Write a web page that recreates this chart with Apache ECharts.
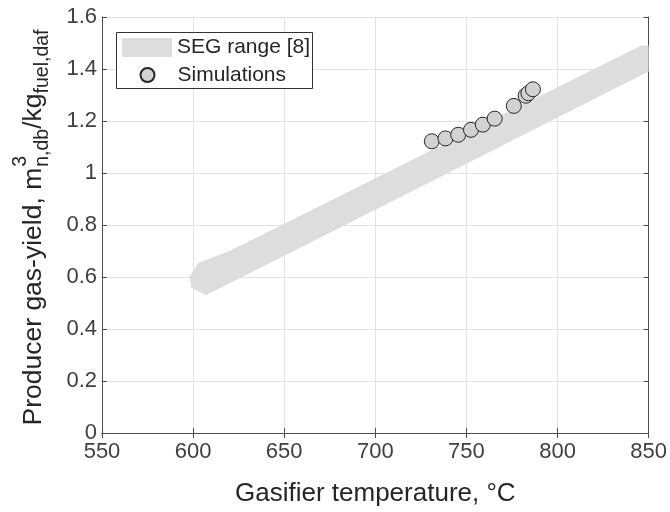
<!DOCTYPE html>
<html><head><meta charset="utf-8">
<script src="https://cdn.jsdelivr.net/npm/echarts@6/dist/echarts.min.js"></script>
<style>html,body{margin:0;padding:0;background:#fff}#c{width:670px;height:512px}</style>
</head><body><div id="c"></div>
<script>
// Simulation points
const simTemp = [731, 738.5, 745.5, 752.5, 759, 765.5, 776, 782.5, 784, 786.5];
const simYield = [1.122, 1.133, 1.147, 1.166, 1.186, 1.209, 1.258, 1.297, 1.307, 1.322];
// SEG range band (upper and lower edges)
const bandUpperX = [598, 603, 620, 650, 700, 750, 800, 846, 850];
const bandUpperY = [0.60, 0.655, 0.70, 0.805, 0.98, 1.155, 1.33, 1.49, 1.49];
const bandLowerX = [599, 607, 650, 700, 750, 800, 850];
const bandLowerY = [0.56, 0.53, 0.682, 0.859, 1.036, 1.213, 1.39];
const xTicks = [550, 600, 650, 700, 750, 800, 850];
const yTicks = [0, 0.2, 0.4, 0.6, 0.8, 1, 1.2, 1.4, 1.6];

const FONT = '"Liberation Sans", Arial, Helvetica, sans-serif';
const TXT = '#262626';
const AX = '#4d4d4d';

const ctx = document.createElement('canvas').getContext('2d');
function tw(s, size) { ctx.font = size + 'px "Liberation Sans"'; return ctx.measureText(s).width; }

// y-axis title pieces
const mainSize = 26.5, smallSize = 19.5;
const p1 = 'Producer gas-yield, m', p2 = '/kg';
const w1 = tw(p1, mainSize), wSup = tw('3', smallSize), wSub1 = tw('n,db', smallSize);
const w2 = tw(p2, mainSize), wSub2 = tw('fuel,daf', smallSize);
const stackW = Math.max(wSup, wSub1);
const totalW = w1 + stackW + w2 + wSub2;
const x0 = -totalW / 2;
function T(text, x, y, size) {
  return { type: 'text', x: x, y: y, style: { text: text, font: size + 'px ' + FONT, fill: TXT, textVerticalAlign: 'middle', textAlign: 'left' } };
}
const yTitle = {
  type: 'group', x: 34, y: 228, rotation: Math.PI / 2,
  children: [
    T(p1, x0, 0, mainSize),
    T('3', x0 + w1 + 1, -13, smallSize),
    T('n,db', x0 + w1 + 1, 9, smallSize),
    T(p2, x0 + w1 + stackW + 1, 0, mainSize),
    T('fuel,daf', x0 + w1 + stackW + w2 + 1, 9, smallSize)
  ]
};

const chart = echarts.init(document.getElementById('c'));
const axisCommon = {
  axisLine: { show: true, lineStyle: { color: AX, width: 1 } },
  axisTick: { show: true, inside: true, length: 5, lineStyle: { color: AX } },
};
chart.setOption({
  animation: false,
  backgroundColor: '#fff',
  textStyle: { fontFamily: FONT },
  grid: { left: 102, right: 21, top: 17, bottom: 74 },
  xAxis: [
    Object.assign({
      type: 'value', min: 550, max: 850, interval: 50,
      axisLabel: { fontSize: 22, color: '#404040', margin: 8, fontFamily: FONT },
      splitLine: { show: true, lineStyle: { color: '#e3e3e3', width: 1 } },
      name: 'Gasifier temperature, °C', nameLocation: 'middle', nameGap: 48,
      nameTextStyle: { fontSize: 26, color: TXT, fontFamily: FONT }
    }, axisCommon),
    Object.assign({
      type: 'value', min: 550, max: 850, interval: 50, position: 'top',
      axisLabel: { show: false }, splitLine: { show: false }
    }, axisCommon)
  ],
  yAxis: [
    Object.assign({
      type: 'value', min: 0, max: 1.6, interval: 0.2,
      axisLabel: { fontSize: 22, color: '#404040', margin: 5, fontFamily: FONT },
      splitLine: { show: true, lineStyle: { color: '#e3e3e3', width: 1 } }
    }, axisCommon),
    Object.assign({
      type: 'value', min: 0, max: 1.6, interval: 0.2, position: 'right',
      axisLabel: { show: false }, splitLine: { show: false }
    }, axisCommon)
  ],
  legend: [
    { data: [{ name: 'SEG range [8]', icon: 'rect' }], left: 122, top: 37, padding: 0, itemWidth: 50, itemHeight: 19,
      textStyle: { fontSize: 21, color: TXT, fontFamily: FONT }, z: 10, selectedMode: false },
    { data: [{ name: 'Simulations', icon: 'circle' }], left: 139.5, top: 64.5, padding: 0, itemWidth: 14, itemHeight: 14,
      textStyle: { fontSize: 21, color: TXT, fontFamily: FONT, padding: [0, 0, 0, 18] }, z: 10, selectedMode: false }
  ],
  graphic: [
    { type: 'rect', z: 5, shape: { x: 116.5, y: 32.5, width: 196, height: 56 },
      style: { fill: '#fff', stroke: '#333', lineWidth: 1 } },
    yTitle
  ],
  series: [
    {
      type: 'custom', name: 'SEG range [8]', coordinateSystem: 'cartesian2d', clip: true, silent: true,
      itemStyle: { color: '#dddddd' },
      data: [[bandUpperX[0], bandUpperY[0]]],
      renderItem: function (params, api) {
        const pts = [];
        for (let i = 0; i < bandUpperX.length; i++) pts.push(api.coord([bandUpperX[i], bandUpperY[i]]));
        for (let i = bandLowerX.length - 1; i >= 0; i--) pts.push(api.coord([bandLowerX[i], bandLowerY[i]]));
        return { type: 'polygon', shape: { points: pts }, style: { fill: '#dddddd' } };
      }
    },
    {
      type: 'scatter', name: 'Simulations', symbol: 'circle', symbolSize: 15,
      itemStyle: { color: '#d2d2d2', borderColor: '#262626', borderWidth: 1, opacity: 1 },
      data: simTemp.map((t, i) => [t, simYield[i]]), z: 3
    }
  ]
});
</script></body></html>
